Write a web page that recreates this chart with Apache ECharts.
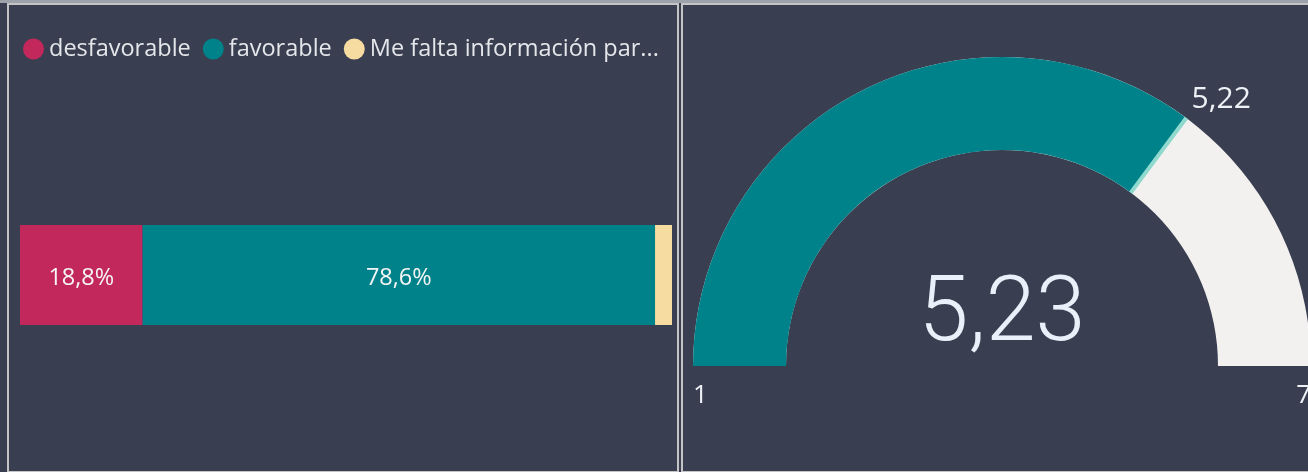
<!DOCTYPE html>
<html>
<head>
<meta charset="utf-8">
<script src="https://cdn.jsdelivr.net/npm/echarts@6/dist/echarts.min.js"></script>
<style>
  html, body { margin: 0; padding: 0; background: #393f51; }
  #main { width: 1308px; height: 472px; }
</style>
</head>
<body>
<div id="main"></div>
<script>
// stacked bar (left panel)
var barCategories = ["total"];
var seriesNames = ["desfavorable", "favorable", "Me falta información para opinar"];
var seriesValues = [18.8, 78.6, 2.6];
var seriesColors = ["#c2285c", "#00828a", "#f6dca0"];

// gauge (right panel)
var gaugeMin = 1;
var gaugeMax = 7;
var gaugeValue = [5.23];
var gaugeTarget = [5.22];

function fmt(v, digits) {
  return v.toFixed(digits).replace(".", ",");
}

var chartDom = document.getElementById("main");
var myChart = echarts.init(chartDom, null, { renderer: "canvas" });

var gaugeCenter = [1002, 366];
var outerR = 309;
var ringWidth = 93;

var targetAngle = Math.PI * (1 - (gaugeTarget[0] - gaugeMin) / (gaugeMax - gaugeMin));
var targetLabelOffset = [
  outerR * Math.cos(targetAngle) + 35,
  -outerR * Math.sin(targetAngle) - 18,
];

var barSeries = seriesNames.map(function (name, i) {
  return {
    name: name,
    type: "bar",
    stack: "total",
    barWidth: 100,
    itemStyle: { color: seriesColors[i] },
    label: {
      show: seriesValues[i] > 5,
      position: "inside",
      offset: [0, 3],
      color: "#f5f5f5",
      fontSize: 23.5,
      fontFamily: "Open Sans",
      formatter: function (p) {
        return fmt(p.value, 1) + "%";
      },
    },
    emphasis: { disabled: true },
    data: [seriesValues[i]],
  };
});

var option = {
  backgroundColor: "#393f51",
  animation: false,
  legend: {
    left: 18,
    top: 32,
    icon: "circle",
    itemWidth: 21,
    itemHeight: 21,
    itemGap: 12,
    textStyle: { color: "#e4e6ea", fontSize: 23.5, fontFamily: "Open Sans" },
    data: [
      { name: seriesNames[0] },
      { name: seriesNames[1] },
      { name: seriesNames[2], textStyle: { width: 300, overflow: "truncate", ellipsis: "..." } },
    ],
  },
  grid: { left: 20, top: 225, width: 652, height: 100 },
  xAxis: { type: "value", min: 0, max: 100, show: false },
  yAxis: { type: "category", data: barCategories, show: false },
  graphic: [
    { type: "rect", shape: { x: 0, y: 0, width: 1308, height: 3 }, style: { fill: "#9ea2ab" } },
    { type: "rect", shape: { x: 8, y: 4, width: 670, height: 468 }, style: { fill: "none", stroke: "#c4c4c6", lineWidth: 2 } },
    { type: "rect", shape: { x: 682, y: 4, width: 640, height: 468 }, style: { fill: "none", stroke: "#c4c4c6", lineWidth: 2 } },
  ],
  series: barSeries.concat([
    {
      type: "gauge",
      z: 2,
      center: gaugeCenter,
      radius: outerR,
      startAngle: 180,
      endAngle: 0,
      min: gaugeMin,
      max: gaugeMax,
      splitNumber: 1,
      axisLine: { lineStyle: { width: ringWidth, color: [[1, "#f2f1ef"]] } },
      progress: { show: true, width: ringWidth, itemStyle: { color: "#00828a" } },
      pointer: { show: false },
      axisTick: { show: false },
      splitLine: { show: false, length: 0, distance: 0 },
      axisLabel: {
        distance: 0,
        color: "#eef1f6",
        fontSize: 26,
        lineHeight: 60,
        fontFamily: "Open Sans",
        formatter: function (v) {
          return "\n" + v;
        },
      },
      title: { show: false },
      detail: {
        offsetCenter: [0, -49],
        color: "#eaf0fa",
        fontSize: 90,
        fontFamily: "Roboto",
        fontWeight: 300,
        formatter: function (v) {
          return fmt(v, 2);
        },
      },
      data: [{ value: gaugeValue[0] }],
    },
    {
      type: "gauge",
      z: 5,
      center: gaugeCenter,
      radius: outerR,
      startAngle: 180,
      endAngle: 0,
      min: gaugeMin,
      max: gaugeMax,
      axisLine: { show: false },
      axisTick: { show: false },
      splitLine: { show: false },
      axisLabel: { show: false },
      pointer: {
        show: true,
        showAbove: true,
        icon: "rect",
        width: 4,
        length: ringWidth,
        offsetCenter: [0, -(outerR - ringWidth)],
        itemStyle: { color: "#8fd9cf" },
      },
      anchor: { show: false },
      title: { show: false },
      detail: {
        offsetCenter: targetLabelOffset,
        color: "#eef1f6",
        fontSize: 30,
        fontWeight: "normal",
        fontFamily: "Open Sans",
        formatter: function (v) {
          return fmt(v, 2);
        },
      },
      data: [{ value: gaugeTarget[0] }],
    },
  ]),
};

option && myChart.setOption(option);
</script>
</body>
</html>
